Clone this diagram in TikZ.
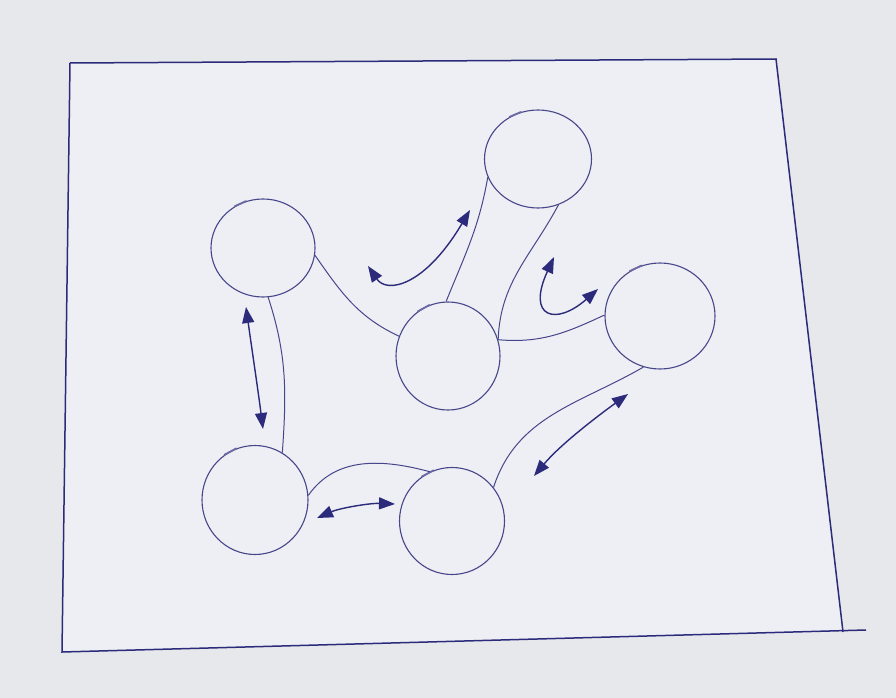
\documentclass[tikz,border=0pt]{standalone}
\usetikzlibrary{shapes.geometric,arrows.meta}
\definecolor{paper}{RGB}{231,232,235}
\definecolor{sheet}{RGB}{237,239,244}
\definecolor{ink}{RGB}{44,42,122}
\definecolor{penline}{RGB}{72,70,138}
\begin{document}
\begin{tikzpicture}[x=1pt,y=-1pt,
  blob/.style={ellipse, draw=penline, line width=1.1pt, inner sep=0pt},
  link/.style={draw=penline, line width=1pt},
  swap/.style={draw=ink, line width=1.4pt,
    {Triangle[length=16pt,width=12pt]}-{Triangle[length=16pt,width=12pt]}},
  frame/.style={draw=ink, line width=1.5pt},
  pentick/.style={draw=ink!70, line width=1.8pt, line cap=round}]
% sheet of paper
\fill[paper] (0,0) rectangle (896,698);
\useasboundingbox (0,0) rectangle (896,698);

% hand-drawn frame
\coordinate (tl) at (70,63);
\coordinate (tr) at (776,59);
\coordinate (br) at (843,632);
\coordinate (bl) at (62,652);
\coordinate (bx) at (866,630);
\fill[sheet] (tl) -- (tr) -- (br) -- (bl) -- cycle;
\draw[frame] (tl) -- (tr) -- (br);
\draw[frame] (tl) -- (bl) -- (bx);

% the six circles
\node[blob, minimum width=104, minimum height=98]  (c1) at (263,248) {};
\node[blob, minimum width=107, minimum height=98]  (c2) at (538,159) {};
\node[blob, minimum width=104, minimum height=108] (c3) at (448,356) {};
\node[blob, minimum width=110, minimum height=106] (c4) at (660,316) {};
\node[blob, minimum width=106, minimum height=109] (c5) at (255,500) {};
\node[blob, minimum width=105, minimum height=107] (c6) at (452,521) {};

% pen start marks on the circles
\foreach \c in {c1,c2,c3,c4,c5,c6}
  \draw[pentick] (\c.124) -- (\c.110);

% links between circles
\coordinate (j) at (c3.18);
\draw[link] (c1.-8) to[out=-55,in=155] (c3.158);
\draw[link] (c2.-160) to[out=-100,in=68] (c3.92);
\draw[link] (c2.-66) to[out=-118,in=88] (j);
\draw[link] (j) to[out=-5,in=-155] (c4.179);
\draw[link] (c1.-84) to[out=-72,in=86] (c5.60);
\draw[link] (c5.5) to[out=55,in=165] (c6.114);
\draw[link] (c6.39) to[out=72,in=-150] (c4.-108);

% double-headed arrows
\coordinate (a1) at (246,307);  \coordinate (a2) at (263,429);
\coordinate (b1) at (317,518);  \coordinate (b2) at (395,504);
\coordinate (d1) at (628,394);  \coordinate (d2) at (534,476);
\coordinate (e1) at (368,266);  \coordinate (e2) at (470,210);
\coordinate (f1) at (554,257);  \coordinate (f2) at (598,289);
\draw[swap] (a1) .. controls (252,350) and (258,390) .. (a2);
\draw[swap] (b1) .. controls (340,508) and (370,503) .. (b2);
\draw[swap] (d1) .. controls (595,418) and (560,445) .. (d2);
\draw[swap] (e1) .. controls (387,294) and (425,286) .. (e2);
\draw[swap] (f1) .. controls (526,318) and (556,326) .. (f2);
\end{tikzpicture}
\end{document}
